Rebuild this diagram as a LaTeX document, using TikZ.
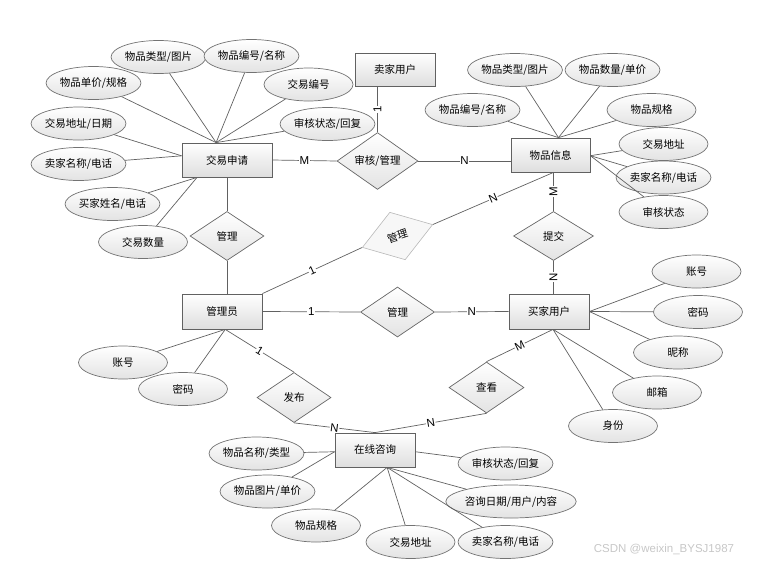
\documentclass[tikz,border=0pt]{standalone}
\usepackage{fontspec}
\setmainfont{Noto Sans CJK SC}
\newfontfamily\latinf{Liberation Sans}
\usetikzlibrary{shapes.geometric,calc}
\begin{document}
\begin{tikzpicture}[x=1pt,y=-1pt,
  font=\fontsize{10.5}{12}\selectfont,
  ent/.style={draw=black!62, line width=0.8pt, top color=white, bottom color=black!13,
    minimum width=80pt, minimum height=34pt, inner sep=0pt},
  att/.style={ellipse, draw=black!55, line width=0.7pt, top color=white, bottom color=black!11,
    minimum width=89pt, minimum height=33pt, inner sep=0pt},
  rel/.style={diamond, draw=black!60, line width=0.7pt, top color=white, bottom color=black!11,
    minimum width=74pt, minimum height=50pt, inner sep=0pt},
  relr/.style={diamond, draw=black!28, line width=0.6pt, fill=black!3,
    minimum width=74pt, minimum height=50pt, inner sep=0pt},
  lnk/.style={draw=black!62, line width=0.7pt},
  card/.style={fill=white, inner sep=0.6pt, font=\latinf\fontsize{11.5}{12}\selectfont},
]
\useasboundingbox (0,0) rectangle (761,566);

% entities
\node[ent, minimum width=90pt] (jy) at (227,160) {交易申请};
\node[ent, minimum height=33pt] (mj) at (395,69.5) {卖家用户};
\node[ent, minimum width=79pt] (wp) at (550.5,155) {物品信息};
\node[ent, minimum height=35pt] (gly) at (222,311.5) {管理员};
\node[ent, minimum height=35pt] (bj) at (549,311.5) {买家用户};
\node[ent] (zx) at (375,450) {在线咨询};

% relationships
\node[rel, minimum width=81pt] (shgl) at (377.5,161) {审核/管理};
\node[rel, minimum height=49pt] (gl1) at (227,236) {管理};
\node[relr, rotate=18] (gl2) at (397.5,236) {管理};
\node[rel, minimum width=80pt, minimum height=49pt] (tj) at (553.5,236) {提交};
\node[rel] (gl3) at (397.5,312) {管理};
\node[rel] (fb) at (294,397.5) {发布};
\node[rel, minimum width=75pt, minimum height=51pt] (ck) at (486.5,387.5) {查看};

% attributes of 交易申请
\node[att] (a1) at (158.5,57) {物品类型/图片};
\node[att] (a2) at (251.5,56) {物品编号/名称};
\node[att] (a3) at (93.5,83) {物品单价/规格};
\node[att] (a4) at (308.5,84.5) {交易编号};
\node[att] (a5) at (78.5,123.5) {交易地址/日期};
\node[att] (a6) at (327.5,124) {审核状态/回复};
\node[att] (a7) at (78.5,164) {卖家名称/电话};
\node[att] (a8) at (112.5,204) {买家姓名/电话};
\node[att] (a9) at (143,242) {交易数量};

% attributes of 物品信息
\node[att] (b1) at (515,70) {物品类型/图片};
\node[att] (b2) at (612.5,70) {物品数量/单价};
\node[att] (b3) at (472.5,110) {物品编号/名称};
\node[att] (b4) at (651.5,110) {物品规格};
\node[att] (b5) at (663.5,144) {交易地址};
\node[att] (b6) at (663.5,177.5) {卖家名称/电话};
\node[att] (b7) at (663.5,212) {审核状态};

% attributes of 买家用户
\node[att] (c1) at (696.5,271.5) {账号};
\node[att] (c2) at (698,312) {密码};
\node[att] (c3) at (678,352.5) {昵称};
\node[att] (c4) at (657,392.5) {邮箱};
\node[att] (c5) at (613,426) {身份};

% attributes of 管理员
\node[att] (d1) at (123,362.5) {账号};
\node[att] (d2) at (183,389) {密码};

% attributes of 在线咨询
\node[att] (e1) at (256.5,453.5) {物品名称/类型};
\node[att] (e2) at (267.5,491.5) {物品图片/单价};
\node[att] (e3) at (316,525.5) {物品规格};
\node[att] (e4) at (410.5,542) {交易地址};
\node[att] (e5) at (505.5,463.5) {审核状态/回复};
\node[att, minimum width=98pt] (e6) at (511,501.5) {咨询日期/用户/内容};
\node[att] (e7) at (505.5,542) {卖家名称/电话};

% convergence points
\coordinate (jyT) at ($(jy.north west)!0.38!(jy.north east)$);
\coordinate (jyL) at ($(jy.north west)!0.38!(jy.south west)$);
\coordinate (jyB) at ($(jy.south west)!0.17!(jy.south east)$);
\coordinate (wpT) at ($(wp.north west)!0.6!(wp.north east)$);
\coordinate (wpR) at ($(wp.north east)!0.52!(wp.south east)$);
\coordinate (bjB) at ($(bj.south west)!0.55!(bj.south east)$);
\coordinate (glyB) at ($(gly.south west)!0.54!(gly.south east)$);
\coordinate (zxL) at ($(zx.north west)!0.55!(zx.south west)$);
\coordinate (zxR) at ($(zx.north east)!0.55!(zx.south east)$);
\coordinate (zxB) at ($(zx.south west)!0.65!(zx.south east)$);

% attribute links
\foreach \n in {a1,a2,a3,a4,a6} \draw[lnk] (\n) -- (jyT);
\foreach \n in {a5,a7} \draw[lnk] (\n) -- (jyL);
\foreach \n in {a8,a9} \draw[lnk] (\n) -- (jyB);
\foreach \n in {b1,b2,b3,b4} \draw[lnk] (\n) -- (wpT);
\foreach \n in {b5,b6,b7} \draw[lnk] (\n) -- (wpR);
\foreach \n in {c1,c2,c3} \draw[lnk] (\n) -- (bj.east);
\foreach \n in {c4,c5} \draw[lnk] (\n) -- (bjB);
\foreach \n in {d1,d2} \draw[lnk] (\n) -- (glyB);
\foreach \n in {e1,e2} \draw[lnk] (\n) -- (zxL);
\draw[lnk] (e5) -- (zxR);
\foreach \n in {e3,e4,e6,e7} \draw[lnk] (\n) -- (zxB);

% relationship links
\draw[lnk] (shgl.north |- mj.south) -- node[card, rotate=90] {1} (shgl.north);
\draw[lnk] (jy.east) -- node[card] {M} (shgl.west);
\draw[lnk] (shgl.east) -- node[card] {N} (wp.west |- shgl.east);
\draw[lnk] (gl1.north |- jy.south) -- (gl1.north);
\draw[lnk] (gl1.south) -- (gl1.south |- gly.north);
\draw[lnk] (gly.north east) -- node[card, sloped] {1} (gl2.west);
\draw[lnk] (gl2.east) -- node[card, sloped] {N} (tj.north |- wp.south);
\draw[lnk] (tj.north |- wp.south) -- node[card, rotate=90] {M} (tj.north);
\draw[lnk] (tj.south) -- node[card, rotate=90] {N} (tj.south |- bj.north);
\draw[lnk] (gly.east) -- node[card] {1} (gl3.west);
\draw[lnk] (gl3.east) -- node[card] {N} (bj.west);
\draw[lnk] (glyB) -- node[card, sloped] {1} (fb.north);
\draw[lnk] (fb.south) -- node[card, sloped] {N} (zx.north);
\draw[lnk] (bjB) -- node[card, sloped] {M} (ck.north);
\draw[lnk] (ck.south) -- node[card, sloped] {N} (zx.north);

% watermark
\node[text=black!22, font=\latinf\fontsize{11.5}{12}\selectfont] (wm) at (664,549) {CSDN @weixin\_BYSJ1987};
\end{tikzpicture}
\end{document}
